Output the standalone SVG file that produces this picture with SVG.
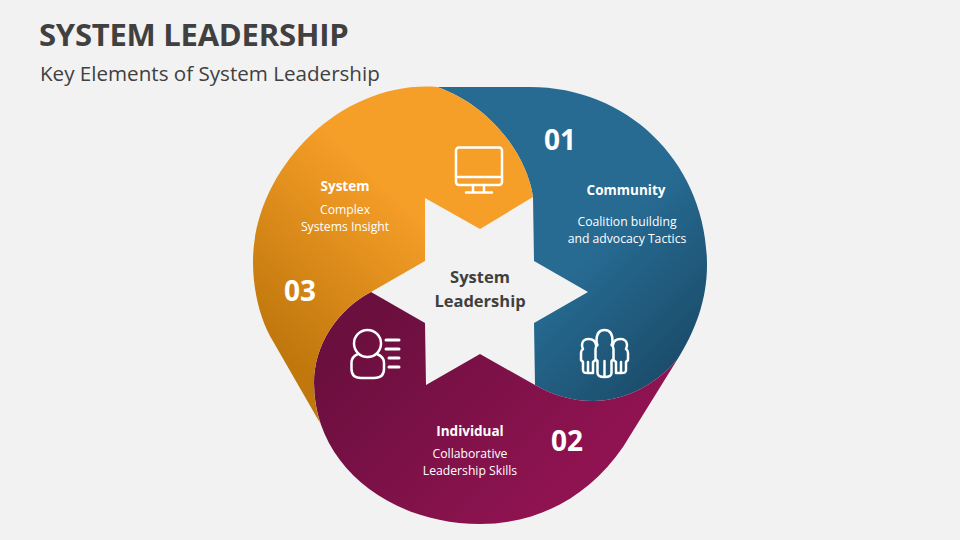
<svg xmlns="http://www.w3.org/2000/svg" width="960" height="540" viewBox="0 0 960 540">
<style>
text{font-family:"Open Sans","Noto Sans","Liberation Sans",sans-serif}
.t{fill:#404040}
.c{text-anchor:middle;fill:#fff}
.h{font-size:13.5px;font-weight:700}
.b{font-size:12.2px}
.n{font-size:28px;font-weight:700}
.ic{fill:none;stroke:#fff;stroke-width:2.5;stroke-linecap:round;stroke-linejoin:round}
</style>
<defs>
<linearGradient id="go" gradientUnits="userSpaceOnUse" x1="270" y1="340" x2="400" y2="200"><stop offset="0" stop-color="#C0770C"/><stop offset="1" stop-color="#F59E28"/></linearGradient>
<linearGradient id="gb" gradientUnits="userSpaceOnUse" x1="590" y1="250" x2="690" y2="350"><stop offset="0" stop-color="#276B93"/><stop offset="1" stop-color="#1B4D6B"/></linearGradient>
<linearGradient id="gm" gradientUnits="userSpaceOnUse" x1="360" y1="320" x2="540" y2="500"><stop offset="0" stop-color="#6A0F3E"/><stop offset="1" stop-color="#8E1350"/></linearGradient>
</defs>
<rect width="960" height="540" fill="#F2F2F2"/>
<text class="t" x="39" y="46" font-size="31" font-weight="700" letter-spacing="-0.25">SYSTEM LEADERSHIP</text>
<text class="t" x="40" y="81" font-size="20.6">Key Elements of System Leadership</text>
<g id="community">
<path fill="url(#gb)" d="M437,87 L530,87 C630,87 707,165 707,265 C707,300 695,332 677,360 C655,385 625,401 593,401 C572,401 552,395 535,385 L534,323 L588,292 L534,261 L533,197 C527,155 490,105 437,87Z"/>
<g class="ic">
<path d="M596.500,341 C596.500,334 599.500,330 604.500,330 C609.500,330 612.500,334 612.500,341 C612.500,343 612,344 611.500,345 C613,346 613.500,347 613.500,349 L613.500,359 L611.500,361 L611.500,373 C611.500,376 608,377 604.500,377 C601,377 597.500,376 597.500,373 L597.500,361 L595.500,359 L595.500,349 C595.500,347 596,346 597.500,345 C597,344 596.500,343 596.500,341Z"/>
<path d="M604.500,361 L604.500,376"/>
<path d="M596,345 C595.500,341 592.500,339 588.500,339 C584,339 582,342 582,345 C582,347 582.500,348 583,349 C581.500,350 581,351 581,353 L581,360 L583,362 L583,370 C583,373 585,373 588,373 L593,373 L593,362 L595.500,360"/>
<path d="M588,362 L588,372"/>
<path d="M613,345 C613.500,341 616.500,339 620.500,339 C625,339 627,342 627,345 C627,347 626.500,348 626,349 C627.500,350 628,351 628,353 L628,360 L626,362 L626,370 C626,373 624,373 621,373 L616,373 L616,362 L613.500,360"/>
<path d="M621,362 L621,372"/>
</g>
<text class="c h" x="626" y="195">Community</text>
<text class="c b" x="627" y="226">Coalition building</text>
<text class="c b" x="627" y="243">and advocacy Tactics</text>
<text class="c n" x="560" y="150">01</text>
</g>
<g id="individual">
<path fill="url(#gm)" d="M371,292 L425,323 L426,385 L480,354 L535,385 C552,395 572,401 593,401 C625,401 655,385 677,360 L623,447 C590,495 540,524 480,524 C390,524 314,465 314,383 C314,345 337,310 371,292Z"/>
<g class="ic"><circle cx="367.500" cy="343.500" r="13.500"/>
<path d="M358,354 C353,356 351.500,359 351.500,363 L351.500,369 C351.500,375 355,378 361,378 L374,378 C380,378 384,375 384,369 L384,363 C384,359 382,356 377,354"/>
<path d="M386,340 L399,340 M386,349 L399,349 M389,358 L399,358 M389,367 L399,367" stroke-width="3"/></g>
<text class="c h" x="470" y="436">Individual</text>
<text class="c b" x="470" y="458">Collaborative</text>
<text class="c b" x="470" y="475">Leadership Skills</text>
<text class="c n" x="567" y="451">02</text>
</g>
<g id="system">
<path fill="url(#go)" d="M480,229 L533,197 C527,155 490,105 437,87 C340,80 253,170 253,262 C253,290 260,318 270,336 L320,423 C316,410 314,397 314,383 C314,345 337,310 371,292 L425,261 L425,198Z"/>
<g class="ic"><rect x="456" y="147.500" width="46" height="37.500" rx="3"/><path d="M456,177 L502,177 M473,185 L473,192 M484,185 L484,192 M466,192.500 L492,192.500"/></g>
<text class="c h" x="345" y="191">System</text>
<text class="c b" x="345" y="214">Complex</text>
<text class="c b" x="345" y="231">Systems Insight</text>
<text class="c n" x="300" y="301">03</text>
</g>
<g id="center">
<text class="t" x="480" y="283" font-size="16.500" font-weight="700" text-anchor="middle">System</text>
<text class="t" x="480" y="307" font-size="16.500" font-weight="700" text-anchor="middle">Leadership</text>
</g>
</svg>
